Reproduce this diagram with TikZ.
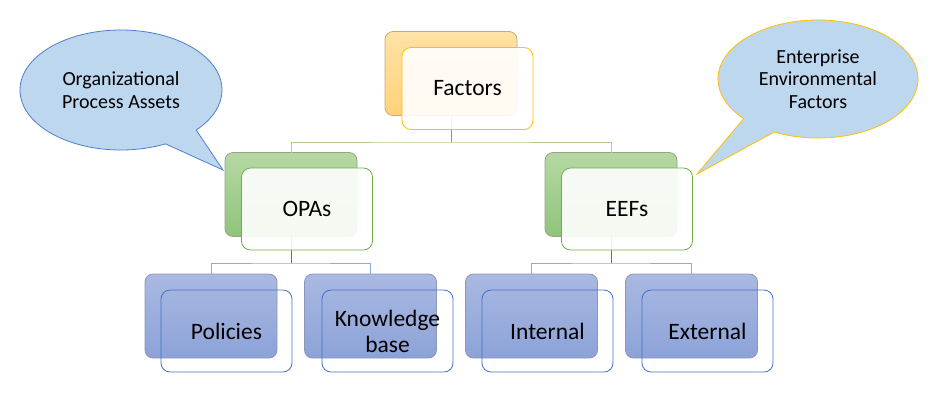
\documentclass[tikz,border=0pt]{standalone}
\usepackage{fontspec}
\setmainfont{Carlito}
\usetikzlibrary{shapes.callouts}
\definecolor{fbTop}{HTML}{FFE2A6}
\definecolor{fbBot}{HTML}{FFD27A}
\definecolor{fbLine}{HTML}{C8AA70}
\definecolor{fbFront}{HTML}{FFC000}
\definecolor{gTop}{HTML}{B6D8A3}
\definecolor{gBot}{HTML}{90C47A}
\definecolor{gLine}{HTML}{8FA884}
\definecolor{gFront}{HTML}{70AD47}
\definecolor{gConn}{HTML}{A9D18E}
\definecolor{bTop}{HTML}{AAB9E2}
\definecolor{bBot}{HTML}{8CA2D8}
\definecolor{bLine}{HTML}{8C97B6}
\definecolor{bFront}{HTML}{4472C4}
\definecolor{bConn}{HTML}{8FAADC}
\definecolor{calloutFill}{HTML}{BDD7EE}
\definecolor{calloutBlue}{HTML}{4F7FCC}
\newcommand{\boxfont}{\fontsize{23.5bp}{26bp}\selectfont}
\newcommand{\callfont}{\fontsize{20bp}{22.5bp}\selectfont}
\tikzset{
  backbox/.style={rounded corners=8bp, minimum width=132bp, minimum height=84bp, inner sep=0pt, outer sep=0pt, line width=0.8bp},
  frontbox/.style={rounded corners=9bp, minimum width=131bp, minimum height=82bp, inner sep=0pt, outer sep=0pt, line width=0.8bp, align=center, font=\boxfont},
  orangeback/.style={backbox, top color=fbTop, bottom color=fbBot, draw=fbLine},
  greenback/.style={backbox, top color=gTop, bottom color=gBot, draw=gLine},
  blueback/.style={backbox, top color=bTop, bottom color=bBot, draw=bLine},
  orangefront/.style={frontbox, draw=fbFront, fill=white, fill opacity=0.9, text opacity=1},
  greenfront/.style={frontbox, draw=gFront, fill=white, fill opacity=0.9, text opacity=1},
  bluefront/.style={frontbox, draw=bFront},
  callbubble/.style={ellipse callout, minimum width=202bp, minimum height=120bp, inner sep=0pt, fill=calloutFill, line width=0.8bp, align=center, font=\callfont, callout pointer arc=22},
  connline/.style={line width=0.9bp}
}
\begin{document}
\begin{tikzpicture}[x=1bp,y=-1bp]
\useasboundingbox[fill=white] (0,0) rectangle (935,403);

% callouts
\node[callbubble, draw=calloutBlue, callout absolute pointer={(223,170)}] (opaCall) at (121,90) {Organizational\\Process Assets};
\node[callbubble, draw=fbFront, minimum width=200bp, minimum height=118bp, callout absolute pointer={(697,174)}] (eefCall) at (818,79) {Enterprise\\Environmental\\Factors};

% back boxes
\node[orangeback] (facBack) at (451,73.5) {};
\node[greenback] (opaBack) at (291,194.5) {};
\node[greenback] (eefBack) at (611,194.5) {};
\node[blueback] (polBack) at (211,316) {};
\node[blueback] (kbBack) at (370.5,316) {};
\node[blueback] (intBack) at (531.5,316) {};
\node[blueback] (extBack) at (691.5,316) {};

% connectors
\coordinate (topJ) at (451,142);
\coordinate (leftJ) at (291,263);
\coordinate (rightJ) at (611,263);
\draw[connline, draw=gFront] (facBack.south) -- (topJ);
\draw[connline, draw=gConn] (opaBack.north) |- (topJ) -| (eefBack.north);
\draw[connline, draw=bFront] (opaBack.south) -- (leftJ);
\draw[connline, draw=bConn] (polBack.north) |- (leftJ) -| (kbBack.north);
\draw[connline, draw=bFront] (eefBack.south) -- (rightJ);
\draw[connline, draw=bConn] (intBack.north) |- (rightJ) -| (extBack.north);

% front boxes
\node[orangefront] (facFront) at (467.5,88.5) {Factors};
\node[greenfront] (opaFront) at (307,209) {OPAs};
\node[greenfront] (eefFront) at (627,209) {EEFs};
\node[bluefront] (polFront) at (226.5,331) {Policies};
\node[bluefront] (kbFront) at (387.5,331) {Knowledge\\base};
\node[bluefront] (intFront) at (547.5,331) {Internal};
\node[bluefront] (extFront) at (707.5,331) {External};
\end{tikzpicture}
\end{document}
